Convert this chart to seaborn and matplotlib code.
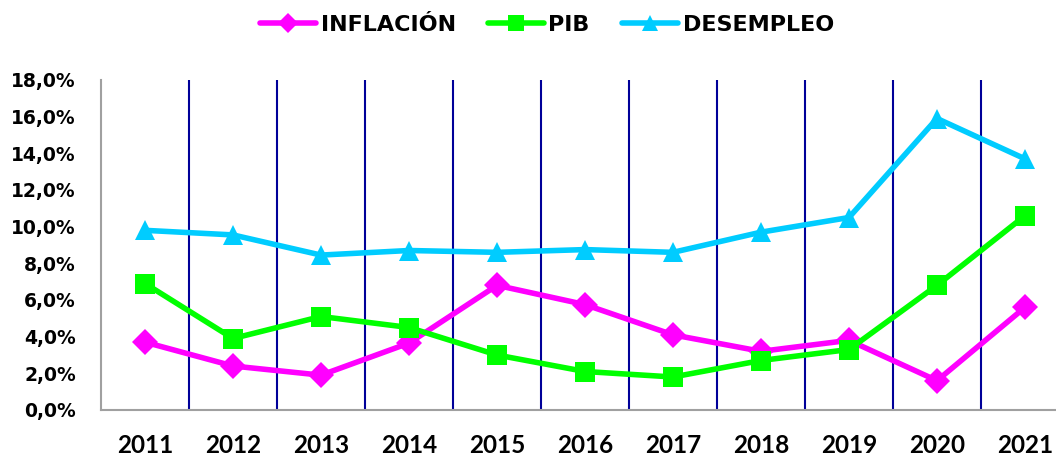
import matplotlib
matplotlib.use("Agg")
import matplotlib.pyplot as plt
import seaborn as sns
import pandas as pd
from matplotlib.ticker import FuncFormatter, FixedLocator

years = ["2011", "2012", "2013", "2014", "2015", "2016", "2017", "2018", "2019", "2020", "2021"]
inflacion = [3.7, 2.4, 1.9, 3.65, 6.8, 5.75, 4.1, 3.2, 3.8, 1.6, 5.6]
pib = [6.9, 3.9, 5.1, 4.5, 3.0, 2.1, 1.8, 2.7, 3.3, 6.8, 10.6]
desempleo = [9.8, 9.55, 8.45, 8.7, 8.6, 8.75, 8.6, 9.7, 10.5, 15.9, 13.7]
series_names = ["INFLACIÓN", "PIB", "DESEMPLEO"]
y_ticks = [0, 2, 4, 6, 8, 10, 12, 14, 16, 18]

sns.set_style("white")
plt.rcParams["font.family"] = ["DejaVu Sans"]
plt.rcParams["font.weight"] = "bold"
plt.rcParams["text.color"] = "black"

df = pd.DataFrame({
    "idx": list(range(len(years))) * 3,
    "valor": inflacion + pib + desempleo,
    "serie": [series_names[0]] * len(years) + [series_names[1]] * len(years) + [series_names[2]] * len(years),
})

fig = plt.figure(figsize=(10.56, 4.57), dpi=100)
W, H = 1056, 457
ax = fig.add_axes([101 / W, (H - 410) / H, (1069 - 101) / W, (410 - 80) / H])

palette = {"INFLACIÓN": "#FF00FF", "PIB": "#00FF00", "DESEMPLEO": "#00CCFF"}
markers = {"INFLACIÓN": "D", "PIB": "s", "DESEMPLEO": "^"}
sizes = {"INFLACIÓN": 13, "PIB": 15, "DESEMPLEO": 15}

for name in series_names:
    sub = df[df["serie"] == name]
    sns.lineplot(data=sub, x="idx", y="valor", ax=ax, color=palette[name], linewidth=4,
                 marker=markers[name], markersize=sizes[name], markeredgewidth=0,
                 label=name, zorder=3)

ax.set_xlim(-0.5, len(years) - 0.5)
ax.set_ylim(0, 18)
ax.yaxis.set_major_locator(FixedLocator(y_ticks))
ax.yaxis.set_major_formatter(FuncFormatter(lambda v, p: f"{v:.1f}%".replace(".", ",")))
ax.set_xticks(range(len(years)))
ax.set_xticklabels(years)
ax.tick_params(axis="x", length=0, pad=17)
ax.tick_params(axis="y", length=0, pad=18)
for lab in ax.get_xticklabels():
    lab.set_fontweight("bold")
    lab.set_fontfamily(["Lato", "DejaVu Sans"])
    lab.set_fontsize(17.5)
    lab.set_color("black")
for lab in ax.get_yticklabels():
    lab.set_fontweight("bold")
    lab.set_fontsize(13.5)
    lab.set_color("black")
ax.set_xlabel("")
ax.set_ylabel("")

for b in range(len(years) - 1):
    ax.axvline(b + 0.5, color="#000099", linewidth=1.5, zorder=1)

for s in ["top", "right"]:
    ax.spines[s].set_visible(False)
for s in ["left", "bottom"]:
    ax.spines[s].set_color("#A0A0A0")
    ax.spines[s].set_linewidth(1.5)

handles, labels = ax.get_legend_handles_labels()
if ax.legend_:
    ax.legend_.remove()
leg = fig.legend(handles, labels, loc="center", bbox_to_anchor=(547 / W, 1 - 25 / H), ncol=3,
                 frameon=False, prop={"weight": "bold", "size": 16}, handlelength=2.5,
                 handletextpad=0.22, columnspacing=1.45, markerscale=0.75)
for t in leg.get_texts():
    t.set_color("black")

fig.savefig("out.png", dpi=100)
